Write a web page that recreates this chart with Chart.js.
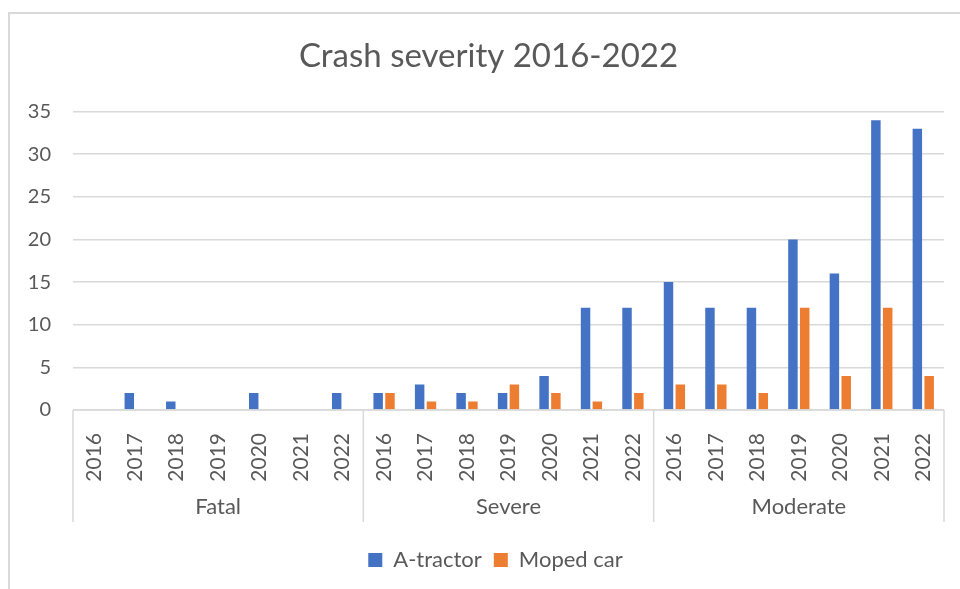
<!DOCTYPE html>
<html>
<head>
<meta charset="utf-8">
<script src="https://cdn.jsdelivr.net/npm/chart.js@4.4.1/dist/chart.umd.min.js"></script>
<style>
  html, body { margin: 0; padding: 0; background: #fff; }
  #wrap { width: 960px; height: 589px; position: relative; }
</style>
</head>
<body>
<div id="wrap"><canvas id="chart"></canvas></div>
<script>
// data
const years = ['2016', '2017', '2018', '2019', '2020', '2021', '2022'];
const severities = ['Fatal', 'Severe', 'Moderate'];
const aTractor = [0, 2, 1, 0, 2, 0, 2,   2, 3, 2, 2, 4, 12, 12,   15, 12, 12, 20, 16, 34, 33];
const mopedCar = [0, 0, 0, 0, 0, 0, 0,   2, 1, 1, 3, 2, 1, 2,     3, 3, 2, 12, 4, 12, 4];
const yMax = 35;
const yStep = 5;

const FONT = 'Lato, "Open Sans", sans-serif';
const TEXT = '#595959';
const GRID = '#d9d9d9';
const AXIS_H = 112; // height of the two-level category axis

const labels = severities.flatMap(() => years);

// second level of the category axis + chart frame
const groupAxis = {
  id: 'groupAxis',
  afterLayout(chart) {
    // Excel centres title and legend a bit right of the plot centre
    chart.titleBlock.left += 12;
    chart.titleBlock.right += 12;
    chart.legend.left += 19;
    chart.legend.right += 19;
  },
  beforeDraw(chart) {
    const ctx = chart.ctx;
    ctx.save();
    ctx.strokeStyle = GRID;
    ctx.lineWidth = 2;
    ctx.strokeRect(9, 13, 980, 600);
    ctx.restore();
  },
  afterDraw(chart) {
    const x = chart.scales.x;
    const ctx = chart.ctx;
    const top = x.top;
    const bottom = x.top + AXIS_H;
    const step = x.getPixelForValue(1) - x.getPixelForValue(0);
    ctx.save();
    ctx.strokeStyle = GRID;
    ctx.lineWidth = 1.5;
    ctx.beginPath();
    ctx.moveTo(x.left, top);
    ctx.lineTo(x.right, top);
    for (let g = 0; g <= severities.length; g++) {
      const px = x.getPixelForValue(g * years.length) - step / 2;
      ctx.moveTo(px, top);
      ctx.lineTo(px, bottom);
    }
    ctx.stroke();

    ctx.fillStyle = TEXT;
    ctx.font = '22px ' + FONT;
    ctx.textAlign = 'center';
    ctx.textBaseline = 'middle';
    severities.forEach((s, g) => {
      const a = x.getPixelForValue(g * years.length);
      const b = x.getPixelForValue(g * years.length + years.length - 1);
      ctx.fillText(s, (a + b) / 2, top + 97);
    });
    ctx.restore();
  }
};

new Chart(document.getElementById('chart'), {
  type: 'bar',
  data: {
    labels,
    datasets: [
      { label: 'A-tractor', data: aTractor, backgroundColor: '#4472C4' },
      { label: 'Moped car', data: mopedCar, backgroundColor: '#ED7D31' }
    ]
  },
  options: {
    responsive: true,
    maintainAspectRatio: false,
    animation: false,
    categoryPercentage: 0.57,
    barPercentage: 0.8,
    layout: { padding: { top: 12, left: 9, right: 16, bottom: 8 } },
    plugins: {
      title: {
        display: true,
        text: 'Crash severity 2016-2022',
        color: TEXT,
        font: { family: FONT, size: 33, weight: 'normal' },
        padding: { top: 25, bottom: 35 }
      },
      legend: {
        position: 'bottom',
        labels: {
          color: TEXT,
          font: { family: FONT, size: 22 },
          boxWidth: 14,
          boxHeight: 14,
          padding: 12
        }
      },
      tooltip: { enabled: false }
    },
    scales: {
      x: {
        grid: { display: false },
        border: { display: false },
        ticks: {
          color: TEXT,
          font: { family: FONT, size: 21 },
          maxRotation: 90,
          minRotation: 90,
          autoSkip: false,
          padding: 15
        },
        afterFit: (scale) => {
          scale.height = 127;
          scale.paddingLeft = 0;
          scale.paddingRight = 0;
        }
      },
      y: {
        min: 0,
        max: yMax,
        ticks: {
          stepSize: yStep,
          color: TEXT,
          font: { family: FONT, size: 20 },
          padding: 22
        },
        grid: { color: GRID, lineWidth: 1.5, drawTicks: false },
        border: { display: false },
        afterFit: (scale) => { scale.width = 64; }
      }
    }
  },
  plugins: [groupAxis]
});
</script>
</body>
</html>
